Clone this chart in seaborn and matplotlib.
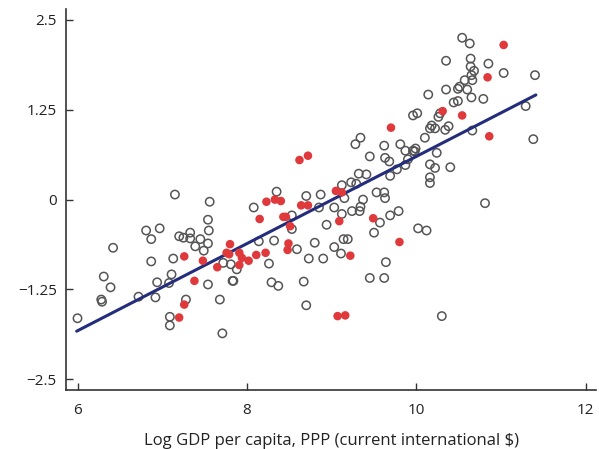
import numpy as np
import pandas as pd
import matplotlib
matplotlib.use("Agg")
import matplotlib.pyplot as plt
import seaborn as sns

# open circles (log GDP per capita, index value)
open_x = [6.00, 6.28, 6.29, 6.31, 6.39, 6.42, 6.72, 6.81, 6.87, 6.87, 6.92, 6.94, 6.97,
          7.08, 7.09, 7.09, 7.11, 7.13, 7.15, 7.20, 7.25, 7.28, 7.33, 7.33, 7.39, 7.45,
          7.49, 7.54, 7.54, 7.54, 7.55, 7.56, 7.68, 7.71, 7.72, 7.81, 7.83, 7.84, 7.88,
          8.08, 8.14, 8.26, 8.29, 8.32, 8.35, 8.37, 8.53, 8.53, 8.59, 8.67, 8.70, 8.70,
          8.73, 8.80, 8.85, 8.87, 8.90, 8.94, 9.03, 9.03, 9.11, 9.12, 9.12, 9.14, 9.19,
          9.15, 9.23, 9.24, 9.29, 9.34, 9.33, 9.37, 9.32, 9.41, 9.28, 9.34, 9.45, 9.45,
          9.50, 9.53, 9.57, 9.62, 9.63, 9.64, 9.62, 9.62, 9.63, 9.68, 9.69, 9.69, 9.77,
          9.79, 9.81, 9.87, 9.87, 9.90, 9.96, 9.98, 9.99, 9.96, 10.01, 10.02, 10.12, 10.10,
          10.14, 10.16, 10.18, 10.22, 10.16, 10.22, 10.24, 10.16, 10.16, 10.26, 10.28,
          10.30, 10.34, 10.38, 10.35, 10.35, 10.40, 10.44, 10.49, 10.49, 10.51, 10.60,
          10.54, 10.63, 10.64, 10.64, 10.68, 10.65, 10.66, 10.57, 10.65, 10.66, 10.79,
          10.81, 10.85, 11.03, 11.29, 11.38, 11.40]
open_y = [-1.65, -1.39, -1.42, -1.07, -1.22, -0.67, -1.35, -0.43, -0.55, -0.86, -1.36, -1.15, -0.40,
          -1.16, -1.63, -1.75, -1.04, -0.82, 0.07, -0.51, -0.53, -1.39, -0.46, -0.54, -0.65, -0.55,
          -0.71, -0.28, -0.61, -1.18, -0.43, -0.03, -1.39, -1.86, -0.88, -0.90, -1.13, -1.13, -0.97,
          -0.11, -0.58, -0.89, -1.15, -0.57, 0.11, -1.20, -0.22, -0.41, -0.69, -1.14, -1.47, 0.05,
          -0.82, -0.60, -0.11, 0.07, -0.82, -0.35, -0.11, -0.66, -0.75, -0.20, 0.20, -0.55, -0.55,
          0.02, 0.24, -0.16, 0.22, -0.10, -0.16, 0.00, 0.36, 0.35, 0.77, 0.86, 0.60, -1.09,
          -0.46, 0.10, -0.32, 0.10, 0.02, -0.87, -1.09, 0.75, 0.58, 0.53, 0.33, -0.22, 0.42,
          -0.16, 0.77, 0.68, 0.48, 0.56, 0.68, 0.67, 0.71, 1.17, 1.20, -0.40, -0.43, 0.86,
          1.46, 0.99, 1.03, 0.99, 0.49, 0.44, 0.65, 0.31, 0.23, 1.15, 1.20,
          -1.62, 0.97, 1.02, 1.93, 1.53, 0.45, 1.35, 1.37, 1.54, 1.57, 1.53,
          2.25, 2.17, 1.96, 1.85, 1.79, 1.73, 1.66, 1.66, 1.42, 0.96, 1.40,
          -0.05, 1.89, 1.76, 1.30, 0.84, 1.73]

# highlighted (red) countries
red_x = [7.26, 7.48, 7.65, 7.80, 7.76, 7.79, 7.91, 7.91, 7.94, 8.02, 8.11, 8.22, 7.38, 7.26,
         7.20, 8.15, 8.23, 8.33, 8.40, 8.43, 8.46, 8.51, 8.49, 8.48, 8.62, 8.72, 8.64, 8.72,
         9.05, 9.12, 9.09, 9.22, 9.07, 9.16, 9.49, 9.80, 9.70, 10.31, 10.54, 10.84, 11.03, 10.86]
red_y = [-0.79, -0.85, -0.94, -0.62, -0.74, -0.76, -0.74, -0.91, -0.81, -0.85, -0.77, -0.74, -1.13, -1.46,
         -1.64, -0.27, -0.03, 0.00, -0.02, -0.24, -0.24, -0.37, -0.61, -0.70, 0.55, 0.61, -0.08, -0.08,
         0.12, 0.10, -0.30, -0.78, -1.62, -1.61, -0.26, -0.59, 1.00, 1.23, 1.17, 1.70, 2.15, 0.88]

# fitted line end points
fit_x = [5.99, 11.41]
fit_y = [-1.83, 1.455]

x_ticks = [6, 8, 10, 12]
y_ticks = [-2.5, -1.25, 0, 1.25, 2.5]
y_tick_labels = ["\u22122.5", "\u22121.25", "0", "1.25", "2.5"]
x_label = "Log GDP per capita, PPP (current international $)"

sns.set_style("ticks")
plt.rcParams['font.family'] = ['Open Sans', 'DejaVu Sans']

fig = plt.figure(figsize=(5.99, 4.49), dpi=100)
ax = fig.add_axes([0.111, 0.131, 0.884, 0.849])

sns.scatterplot(x=open_x, y=open_y, ax=ax, marker="o", s=36,
                facecolor="none", edgecolor="#555555", linewidth=1.1, zorder=2)
sns.lineplot(x=fit_x, y=fit_y, ax=ax, color="#242d7c", linewidth=2.2, zorder=3)
sns.scatterplot(x=red_x, y=red_y, ax=ax, marker="o", s=38,
                color="#e0393b", edgecolor="none", linewidth=0, zorder=4)

ax.set_xlim(5.87, 12.12)
ax.set_ylim(-2.65, 2.65)
ax.set_xticks(x_ticks)
ax.set_xticklabels([str(t) for t in x_ticks])
ax.set_yticks(y_ticks)
ax.set_yticklabels(y_tick_labels)
ax.tick_params(direction="in", length=5, width=1, color="#333333",
               labelsize=11, labelcolor="#222222", pad=7)
ax.tick_params(axis="x", pad=9)
ax.set_xlabel(x_label, fontsize=12, color="#222222", labelpad=11)
ax.set_ylabel("")

sns.despine(ax=ax)
for side in ["left", "bottom"]:
    ax.spines[side].set_linewidth(1.2)
    ax.spines[side].set_color("#333333")

fig.savefig("out.png", dpi=100)
